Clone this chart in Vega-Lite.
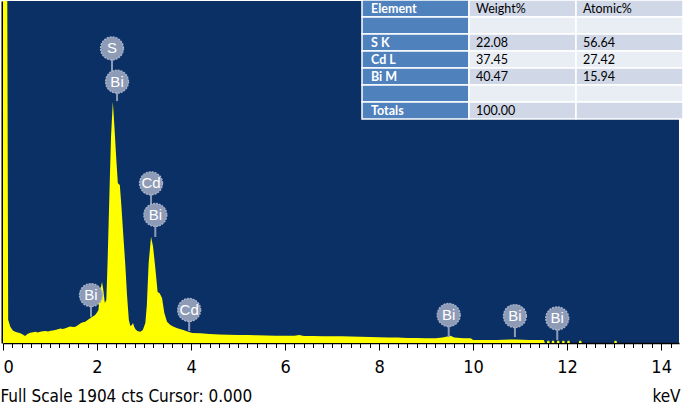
{
  "$schema": "https://vega.github.io/schema/vega-lite/v6.json",
  "width": 676,
  "height": 342,
  "autosize": "none",
  "padding": {"left": 3, "top": 1, "right": 6, "bottom": 67},
  "background": "#ffffff",
  "config": {"view": {"fill": "#0a3066", "stroke": null}},
  "datasets": {
    "spectrum": [
      {"keV": 0, "cts": 2500}, {"keV": 0.085, "cts": 2500}, {"keV": 0.11, "cts": 130}, {"keV": 0.155, "cts": 91},
      {"keV": 0.21, "cts": 70}, {"keV": 0.26, "cts": 63}, {"keV": 0.31, "cts": 58}, {"keV": 0.37, "cts": 54},
      {"keV": 0.42, "cts": 48}, {"keV": 0.47, "cts": 39}, {"keV": 0.52, "cts": 50}, {"keV": 0.58, "cts": 57},
      {"keV": 0.64, "cts": 60}, {"keV": 0.69, "cts": 63}, {"keV": 0.74, "cts": 59}, {"keV": 0.79, "cts": 63},
      {"keV": 0.85, "cts": 65}, {"keV": 0.9, "cts": 67}, {"keV": 0.96, "cts": 64}, {"keV": 1.01, "cts": 68},
      {"keV": 1.06, "cts": 70}, {"keV": 1.11, "cts": 72}, {"keV": 1.17, "cts": 76}, {"keV": 1.22, "cts": 81},
      {"keV": 1.27, "cts": 78}, {"keV": 1.33, "cts": 82}, {"keV": 1.38, "cts": 88}, {"keV": 1.43, "cts": 92},
      {"keV": 1.49, "cts": 89}, {"keV": 1.54, "cts": 91}, {"keV": 1.6, "cts": 100}, {"keV": 1.65, "cts": 110},
      {"keV": 1.7, "cts": 115}, {"keV": 1.75, "cts": 119}, {"keV": 1.8, "cts": 128}, {"keV": 1.86, "cts": 139},
      {"keV": 1.91, "cts": 148}, {"keV": 1.96, "cts": 156}, {"keV": 2.0, "cts": 170}, {"keV": 2.03, "cts": 184},
      {"keV": 2.07, "cts": 295}, {"keV": 2.106, "cts": 340}, {"keV": 2.134, "cts": 295}, {"keV": 2.166, "cts": 223},
      {"keV": 2.198, "cts": 239}, {"keV": 2.226, "cts": 462}, {"keV": 2.268, "cts": 870}, {"keV": 2.298, "cts": 1148},
      {"keV": 2.336, "cts": 1343}, {"keV": 2.368, "cts": 1214}, {"keV": 2.411, "cts": 1019}, {"keV": 2.443, "cts": 889},
      {"keV": 2.485, "cts": 880}, {"keV": 2.517, "cts": 768}, {"keV": 2.566, "cts": 573}, {"keV": 2.602, "cts": 434},
      {"keV": 2.638, "cts": 267}, {"keV": 2.677, "cts": 128}, {"keV": 2.709, "cts": 95}, {"keV": 2.74, "cts": 100},
      {"keV": 2.766, "cts": 111}, {"keV": 2.79, "cts": 90}, {"keV": 2.815, "cts": 78}, {"keV": 2.857, "cts": 67},
      {"keV": 2.921, "cts": 63}, {"keV": 2.974, "cts": 72}, {"keV": 3.028, "cts": 111}, {"keV": 3.06, "cts": 212},
      {"keV": 3.098, "cts": 444}, {"keV": 3.149, "cts": 592}, {"keV": 3.191, "cts": 538}, {"keV": 3.24, "cts": 418},
      {"keV": 3.289, "cts": 284}, {"keV": 3.332, "cts": 277}, {"keV": 3.383, "cts": 250}, {"keV": 3.432, "cts": 167},
      {"keV": 3.489, "cts": 119}, {"keV": 3.56, "cts": 100}, {"keV": 3.63, "cts": 91}, {"keV": 3.709, "cts": 82},
      {"keV": 3.836, "cts": 72}, {"keV": 3.921, "cts": 64}, {"keV": 4.028, "cts": 56}, {"keV": 4.2, "cts": 54},
      {"keV": 4.4, "cts": 50}, {"keV": 4.6, "cts": 48}, {"keV": 4.8, "cts": 46}, {"keV": 5.0, "cts": 45},
      {"keV": 5.2, "cts": 45}, {"keV": 5.4, "cts": 43}, {"keV": 5.6, "cts": 42}, {"keV": 5.8, "cts": 41},
      {"keV": 6.0, "cts": 40}, {"keV": 6.2, "cts": 40}, {"keV": 6.3, "cts": 44}, {"keV": 6.4, "cts": 39},
      {"keV": 6.6, "cts": 39}, {"keV": 6.8, "cts": 38}, {"keV": 7.0, "cts": 37}, {"keV": 7.2, "cts": 37},
      {"keV": 7.4, "cts": 36}, {"keV": 7.6, "cts": 35}, {"keV": 7.8, "cts": 33}, {"keV": 8.0, "cts": 32},
      {"keV": 8.2, "cts": 30}, {"keV": 8.4, "cts": 30}, {"keV": 8.6, "cts": 28}, {"keV": 8.8, "cts": 28},
      {"keV": 9.0, "cts": 27}, {"keV": 9.2, "cts": 27}, {"keV": 9.35, "cts": 30}, {"keV": 9.45, "cts": 36},
      {"keV": 9.52, "cts": 41}, {"keV": 9.6, "cts": 31}, {"keV": 9.8, "cts": 27}, {"keV": 9.95, "cts": 26},
      {"keV": 10.0, "cts": 17}, {"keV": 10.5, "cts": 17}, {"keV": 10.9, "cts": 20}, {"keV": 11.2, "cts": 17},
      {"keV": 11.5, "cts": 17}, {"keV": 11.53, "cts": 0},
      {"keV": 11.57, "cts": 0}, {"keV": 11.58, "cts": 12}, {"keV": 11.62, "cts": 12}, {"keV": 11.63, "cts": 0},
      {"keV": 11.67, "cts": 0}, {"keV": 11.68, "cts": 12}, {"keV": 11.72, "cts": 12}, {"keV": 11.73, "cts": 0},
      {"keV": 11.78, "cts": 0}, {"keV": 11.79, "cts": 12}, {"keV": 11.83, "cts": 12}, {"keV": 11.84, "cts": 0},
      {"keV": 11.89, "cts": 0}, {"keV": 11.9, "cts": 12}, {"keV": 11.94, "cts": 12}, {"keV": 11.95, "cts": 0},
      {"keV": 12.0, "cts": 0}, {"keV": 12.01, "cts": 12}, {"keV": 12.05, "cts": 12}, {"keV": 12.06, "cts": 0},
      {"keV": 12.25, "cts": 0}, {"keV": 12.26, "cts": 12}, {"keV": 12.3, "cts": 12}, {"keV": 12.31, "cts": 0},
      {"keV": 13.0, "cts": 0}, {"keV": 13.01, "cts": 12}, {"keV": 13.05, "cts": 12}, {"keV": 13.06, "cts": 0},
      {"keV": 14.38, "cts": 0}
    ],
    "peaks": [
      {"el": "S", "keV": 2.319, "cts": 1640, "stem_cts": 1455},
      {"el": "Bi", "keV": 2.426, "cts": 1455, "stem_cts": 1347},
      {"el": "Cd", "keV": 3.149, "cts": 889, "stem_cts": 713},
      {"el": "Bi", "keV": 3.24, "cts": 713, "stem_cts": 590},
      {"el": "Bi", "keV": 1.872, "cts": 267, "stem_cts": 146},
      {"el": "Cd", "keV": 3.96, "cts": 184, "stem_cts": 67},
      {"el": "Bi", "keV": 9.481, "cts": 156, "stem_cts": 33},
      {"el": "Bi", "keV": 10.89, "cts": 150, "stem_cts": 33},
      {"el": "Bi", "keV": 11.79, "cts": 137, "stem_cts": 17}
    ],
    "table": [
      {"row": 0, "col": "Element", "text": "Element"}, {"row": 0, "col": "Weight", "text": "Weight%"}, {"row": 0, "col": "Atomic", "text": "Atomic%"},
      {"row": 1, "col": "Element", "text": ""}, {"row": 1, "col": "Weight", "text": ""}, {"row": 1, "col": "Atomic", "text": ""},
      {"row": 2, "col": "Element", "text": "S K"}, {"row": 2, "col": "Weight", "text": "22.08"}, {"row": 2, "col": "Atomic", "text": "56.64"},
      {"row": 3, "col": "Element", "text": "Cd L"}, {"row": 3, "col": "Weight", "text": "37.45"}, {"row": 3, "col": "Atomic", "text": "27.42"},
      {"row": 4, "col": "Element", "text": "Bi M"}, {"row": 4, "col": "Weight", "text": "40.47"}, {"row": 4, "col": "Atomic", "text": "15.94"},
      {"row": 5, "col": "Element", "text": ""}, {"row": 5, "col": "Weight", "text": ""}, {"row": 5, "col": "Atomic", "text": ""},
      {"row": 6, "col": "Element", "text": "Totals"}, {"row": 6, "col": "Weight", "text": "100.00"}, {"row": 6, "col": "Atomic", "text": ""}
    ]
  },
  "layer": [
    {
      "encoding": {
        "x": {
          "field": "keV", "type": "quantitative",
          "scale": {"domain": [0, 14.38], "nice": false, "zero": false},
          "axis": {
            "values": [0,0.2,0.4,0.6,0.8,1,1.2,1.4,1.6,1.8,2,2.2,2.4,2.6,2.8,3,3.2,3.4,3.6,3.8,4,4.2,4.4,4.6,4.8,5,5.2,5.4,5.6,5.8,6,6.2,6.4,6.6,6.8,7,7.2,7.4,7.6,7.8,8,8.2,8.4,8.6,8.8,9,9.2,9.4,9.6,9.8,10,10.2,10.4,10.6,10.8,11,11.2,11.4,11.6,11.8,12,12.2,12.4,12.6,12.8,13,13.2,13.4,13.6,13.8,14,14.2],
            "tickCount": 200,
            "tickMinStep": 0.1,
            "labelExpr": "datum.value % 2 === 0 ? '' + datum.value : ''",
            "labelAlign": {"condition": {"test": "datum.value === 0", "value": "left"}, "value": "center"},
            "tickSize": {"condition": {"test": "datum.value % 2 === 0", "value": 7}, "value": 4.5},
            "tickColor": "#000000",
            "tickWidth": 1,
            "domainColor": "#000000",
            "domainWidth": 1.5,
            "grid": false,
            "labelFlush": false,
            "labelOverlap": false,
            "labelBound": false,
            "labelFont": "Liberation Sans Narrow, Arial Narrow, DejaVu Sans Condensed, sans-serif",
            "labelFontSize": 18,
            "labelColor": "#000000",
            "labelPadding": 8,
            "title": "Full Scale 1904 cts Cursor: 0.000",
            "titleFont": "Liberation Sans Narrow, Arial Narrow, DejaVu Sans Condensed, sans-serif",
            "titleFontSize": 17,
            "titleFontWeight": "normal",
            "titleColor": "#000000",
            "titleAnchor": "start",
            "titleAlign": "left",
            "titleBaseline": "middle",
            "titleX": -3,
            "titleY": 53
          }
        },
        "y": {
          "field": "cts", "type": "quantitative",
          "scale": {"domain": [0, 1904], "nice": false},
          "axis": {
            "labels": false,
            "ticks": false,
            "grid": false,
            "domainColor": "#000000",
            "domainWidth": 2,
            "offset": 1,
            "title": "keV",
            "titleAngle": 0,
            "titleX": 678,
            "titleY": 395,
            "titleAlign": "right",
            "titleBaseline": "middle",
            "titleFont": "Liberation Sans Narrow, Arial Narrow, DejaVu Sans Condensed, sans-serif",
            "titleFontSize": 17,
            "titleFontWeight": "normal",
            "titleColor": "#000000"
          }
        }
      },
      "layer": [
        {
          "data": {"name": "spectrum"},
          "mark": {"type": "area", "color": "#ffff00", "clip": true, "interpolate": "linear"}
        },
        {
          "data": {"name": "peaks"},
          "mark": {"type": "rule", "color": "#8e9bb7", "strokeWidth": 2},
          "encoding": {
            "y2": {"field": "stem_cts"}
          }
        },
        {
          "data": {"name": "peaks"},
          "mark": {"type": "point", "shape": "circle", "filled": true, "size": 520, "color": "#8e9bb7", "opacity": 1, "stroke": "#a7b2c9", "strokeWidth": 1.5, "strokeDash": [2, 1]}
        },
        {
          "data": {"name": "peaks"},
          "mark": {"type": "text", "color": "#ffffff", "fontSize": 15, "font": "Liberation Sans", "align": "center", "baseline": "middle"},
          "encoding": {
            "text": {"field": "el"}
          }
        }
      ]
    },
    {
      "data": {"name": "table"},
      "encoding": {
        "x": {
          "field": "col", "type": "nominal",
          "scale": {"type": "band", "domain": ["Element", "Weight", "Atomic"], "range": [359, 680], "paddingInner": 0, "paddingOuter": 0},
          "axis": null
        },
        "y": {
          "field": "row", "type": "ordinal",
          "scale": {"type": "band", "domain": [0, 1, 2, 3, 4, 5, 6], "range": [-1, 118], "paddingInner": 0, "paddingOuter": 0},
          "axis": null
        }
      },
      "layer": [
        {
          "mark": {"type": "rect", "stroke": "#ffffff", "strokeWidth": 1.5},
          "encoding": {
            "color": {
              "condition": [
                {"test": "datum.col === 'Element'", "value": "#4f81bd"},
                {"test": "datum.row % 2 === 0", "value": "#d0d8e8"}
              ],
              "value": "#e9edf4"
            }
          }
        },
        {
          "transform": [{"filter": "datum.col === 'Element'"}],
          "mark": {"type": "text", "align": "left", "baseline": "middle", "dx": 9, "font": "Lato", "fontSize": 12.5, "fontWeight": "bold", "color": "#ffffff"},
          "encoding": {
            "x": {"field": "col", "type": "nominal", "bandPosition": 0},
            "text": {"field": "text"}
          }
        },
        {
          "transform": [{"filter": "datum.col !== 'Element'"}],
          "mark": {"type": "text", "align": "left", "baseline": "middle", "dx": 7, "font": "Lato", "fontSize": 12.5, "color": "#000000"},
          "encoding": {
            "x": {"field": "col", "type": "nominal", "bandPosition": 0},
            "text": {"field": "text"}
          }
        }
      ]
    }
  ],
  "resolve": {"scale": {"x": "independent", "y": "independent"}}
}
